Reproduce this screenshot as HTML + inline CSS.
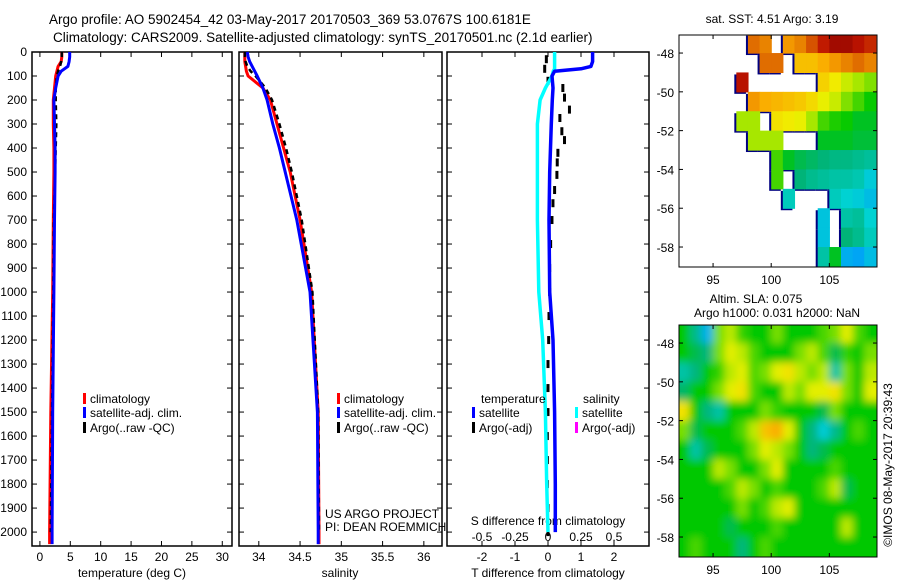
<!DOCTYPE html>
<html><head><meta charset="utf-8"><style>
html,body{margin:0;padding:0;background:#fff;}
svg{display:block;font-family:"Liberation Sans",sans-serif;}
text{fill:#000;}
</style></head><body>
<svg id="chart" width="900" height="580" viewBox="0 0 900 580">
<text x="49" y="24" font-size="13.5">Argo profile: AO 5902454_42 03-May-2017 20170503_369 53.0767S 100.6181E</text>
<text x="53" y="42" font-size="13.5">Climatology: CARS2009. Satellite-adjusted climatology: synTS_20170501.nc (2.1d earlier)</text>
<g id="g"></g>
</svg>
<script>
// ---- profile data ----
const tempDepth = [0,20,40,60,80,100,150,200,300,400,500,700,1000,1500,2000,2050];
const climT = [3.6,3.6,3.5,3.0,2.8,2.6,2.4,2.2,2.2,2.3,2.3,2.2,2.1,1.8,1.6,1.6];
const satT  = [4.9,4.9,4.8,4.6,3.5,3.0,2.6,2.3,2.4,2.5,2.5,2.4,2.3,2.1,2.0,2.0];
const argoDepth = [0,20,40,60,80,100,150,200,300,400,500,700,1000,1500,2000];
const argoT = [3.6,3.6,3.5,3.3,3.0,2.8,2.6,2.6,2.7,2.6,2.5,2.3,2.2,2.0,1.8];
const climS = [33.83,33.83,33.83,33.84,33.85,33.87,34.05,34.14,34.22,34.3,34.38,34.5,34.64,34.72,34.73,34.73];
const satS  = [33.86,33.87,33.89,33.92,33.95,33.98,34.05,34.1,34.17,34.25,34.32,34.46,34.62,34.71,34.72,34.72];
const argoS = [33.83,33.83,33.84,33.86,33.9,33.96,34.08,34.16,34.25,34.33,34.4,34.52,34.65,34.72,34.73];
const diffDepth = [0,40,60,70,80,100,150,200,300,500,700,1000,1200,1500,1800,2000];
const satTdiff = [1.35,1.35,1.3,1.0,0.2,0.12,0.15,0.13,0.1,0.05,0.03,0.05,0.15,0.2,0.22,0.22];
const satSdiff = [0.05,0.05,0.05,0.05,0.04,0.03,-0.02,-0.06,-0.08,-0.08,-0.08,-0.07,-0.04,-0.02,-0.01,0];
const argoDiffDepth = [30,70,120,150,190,240,275,330,367,420,460,512,575,630,700,800,900,1000,1100,1200,1300,1400,1500,1600,1700,1800,1900,2000];
const argoDiffVal = [-0.05,-0.1,0,0.45,0.5,0.65,0.36,0.42,0.5,0.3,0.28,0.27,0.2,0.15,0.12,0.08,0.05,0.05,0.03,0.02,0,0,0,-0.02,-0.02,-0.02,0,0];
const depthTicks = [0,100,200,300,400,500,600,700,800,900,1000,1100,1200,1300,1400,1500,1600,1700,1800,1900,2000];
const tTicks = [0,5,10,15,20,25,30];
const sTicks = [34,34.5,35,35.5,36];
const dTTicks = [-2,-1,0,1,2];
const dSTicks = [-0.5,-0.25,0,0.25,0.5];
const dSLabels = ["-0.5","-0.25","0","0.25","0.5"];
// ---- map data ----
const mapLons = [92,93,94,95,96,97,98,99,100,101,102,103,104,105,106,107,108,109];
const mapLats = [-47,-48,-49,-50,-51,-52,-53,-54,-55,-56,-57,-58,-59];
const lonTicks = [95,100,105];
const latTicks = [-48,-50,-52,-54,-56,-58];
const N = null;
const sst = [
[N,N,N,N,N,N,7.8,7.6,N,7.4,7.6,8.0,8.4,8.7,8.7,8.5,8.3],
[N,N,N,N,N,N,N,7.8,7.8,N,7.0,7.0,7.2,7.4,7.6,7.8,7.6],
[N,N,N,N,N,8.5,N,N,N,N,N,N,6.8,6.5,6.2,6.0,5.8],
[N,N,N,N,N,N,7.4,7.2,7.1,7.0,6.9,6.7,6.4,6.2,5.8,5.5,5.2],
[N,N,N,N,N,6,6,N,6.6,6.5,6.4,6.0,5.5,5.3,5.2,5.0,5.0],
[N,N,N,N,N,N,6,6,6,N,N,N,5.0,5.0,5.0,4.9,4.9],
[N,N,N,N,N,N,N,N,5.5,5.0,4.8,4.7,4.6,4.5,4.5,4.4,4.3],
[N,N,N,N,N,N,N,N,5.5,N,4.6,4.4,4.3,4.2,4.2,4.1,3.7],
[N,N,N,N,N,N,N,N,N,4.0,N,N,N,4.0,3.8,3.7,3.5],
[N,N,N,N,N,N,N,N,N,N,N,N,3.6,N,4.2,4.3,3.8],
[N,N,N,N,N,N,N,N,N,N,N,N,3.6,N,4.6,4.4,4.0],
[N,N,N,N,N,N,N,N,N,N,N,N,4.2,5.0,3.3,3.2,3.5]];
const sla = [
[0,-0.06,-0.15,0.05,0.08,0.02,0,0,0.05,0,0,0,0.03,0.05,0.1,0.03,0],
[0,-0.03,-0.05,0.05,0.1,0.08,0.03,0,0,0,0.05,0.08,0.03,-0.03,0.02,0,0.05],
[-0.08,-0.05,0,0.02,0.08,0.1,0.03,0.05,0.1,0.12,0.08,0.05,0.08,-0.08,0.05,0,0.08],
[-0.04,0,0,0.05,0.1,0.12,0.03,0,0,0.08,0.05,0.1,0.1,0.12,0.05,0,0.1],
[0.12,0,-0.05,-0.08,0,0,0,0.05,0.02,0,0,0,-0.03,0.05,0,0,0],
[0.05,-0.03,0,0,0,0.03,0.08,0.15,0.17,0.1,0,-0.05,-0.12,-0.06,0,0.03,0],
[0,-0.08,-0.03,0,0,0,0.05,0.1,0.08,0.05,0,-0.05,-0.03,0,0,0,0],
[0,0,0,0.08,0.05,0,0,0.05,0.1,0,0,0,0,0.03,0,0,0],
[0,0,0,0,0.03,0.08,0.05,0,0.03,0,0,0,0.03,0.08,-0.03,0,0],
[0,0,0,0,0,0.05,0,0.03,0.08,0.1,0,0,0,0,0,0,0],
[0,0,0,0,-0.03,0,0,0,0.03,0,0,0,0,0,0.08,0,0],
[0,0.03,0,0,0,-0.05,0,0.03,0,0,0,0,0,0,0,0,0]];

const NS = "http://www.w3.org/2000/svg";
const G = document.getElementById('g');
function mk(tag, attrs, parent){const e=document.createElementNS(NS,tag);for(const k in attrs)e.setAttribute(k,attrs[k]);(parent||G).appendChild(e);return e;}
function txt(x,y,s,size,anchor){const t=mk('text',{x:x,y:y,'font-size':size||12,'text-anchor':anchor||'start'});t.textContent=s;return t;}

const PT=52, PB=546, D0=0, D1=2058;
const yD = d => PT + (d-D0)/(D1-D0)*(PB-PT);
const panels = [
 {x0:32,x1:232,v0:-1.3,v1:31.6,name:'temperature-panel'},
 {x0:239,x1:442,v0:33.76,v1:36.22,name:'salinity-panel'},
 {x0:447,x1:649,v0:-3.06,v1:3.06,name:'difference-panel'}];
function xf(p){return v => p.x0 + (v-p.v0)/(p.v1-p.v0)*(p.x1-p.x0);}

panels.forEach((p,pi)=>{
  const f=mk('rect',{x:p.x0,y:PT,width:p.x1-p.x0,height:PB-PT,fill:'none',stroke:'#000','stroke-width':1.5});
  
  
  depthTicks.forEach(d=>{
    const y=yD(d);
    mk('line',{x1:p.x0,x2:p.x0+5,y1:y,y2:y,stroke:'#000'});
    mk('line',{x1:p.x1,x2:p.x1-5,y1:y,y2:y,stroke:'#000'});
    if(pi===0){const t=txt(27,y+4,String(d),12,'end');}
  });
});
let X=xf(panels[0]);
tTicks.forEach(v=>{mk('line',{x1:X(v),x2:X(v),y1:PT,y2:PT+5,stroke:'#000'});mk('line',{x1:X(v),x2:X(v),y1:PB,y2:PB-5,stroke:'#000'});
 const t=txt(X(v),561,String(v),12,'middle');});
let at=txt(132,577,'temperature (deg C)',12,'middle');
function line(xs,ds,X,color,w,name,dash){
  const pts=xs.map((v,i)=>X(v).toFixed(1)+','+yD(ds[i]).toFixed(1)).join(' ');
  const a={points:pts,fill:'none',stroke:color,'stroke-width':w,'stroke-linejoin':'round'};
  if(dash)a['stroke-dasharray']=dash;
  const e=mk('polyline',a);
  
  
  return e;
}
line(climT,tempDepth,X,'#f00',3,'climatology-temperature-line');
line(argoT,argoDepth,X,'#000',2.5,'argo-temperature-line','5 4');
line(satT,tempDepth,X,'#00f',3,'satellite-temperature-line');
X=xf(panels[1]);
sTicks.forEach(v=>{mk('line',{x1:X(v),x2:X(v),y1:PT,y2:PT+5,stroke:'#000'});mk('line',{x1:X(v),x2:X(v),y1:PB,y2:PB-5,stroke:'#000'});
 const t=txt(X(v),561,String(v),12,'middle');});
at=txt(340,577,'salinity',12,'middle');
line(climS,tempDepth,X,'#f00',3,'climatology-salinity-line');
line(argoS,argoDepth,X,'#000',2.5,'argo-salinity-line','5 4');
line(satS,tempDepth,X,'#00f',3,'satellite-salinity-line');
X=xf(panels[2]);
const XS = v => X(v*4);
dTTicks.forEach(v=>{mk('line',{x1:X(v),x2:X(v),y1:PT,y2:PT+5,stroke:'#000'});mk('line',{x1:X(v),x2:X(v),y1:PB,y2:PB-5,stroke:'#000'});
 const t=txt(X(v),561,String(v),12,'middle');});
dSTicks.forEach((v,i)=>{const t=txt(XS(v),541,dSLabels[i],12,'middle');});
at=txt(548,577,'T difference from climatology',12,'middle');
at=txt(548,525,'S difference from climatology',12,'middle');
argoDiffVal.forEach((v,i)=>{
  const m=mk('rect',{x:X(v)-1.5,y:yD(argoDiffDepth[i])-4,width:3,height:8,fill:'#000'});
  
  
});
line(satSdiff,diffDepth,XS,'#00ffff',3.5,'satellite-salinity-diff-line');
line(satTdiff,diffDepth,X,'#00f',3.5,'satellite-temperature-diff-line');

function leg(x,y,color,label){const r=mk('rect',{x:x,y:y-10,width:3,height:11,fill:color});const t=txt(x+7,y,label,12);}
leg(83,403,'#f00','climatology');leg(83,417,'#00f','satellite-adj. clim.');leg(83,432,'#000','Argo(..raw -QC)');
leg(337,403,'#f00','climatology');leg(337,417,'#00f','satellite-adj. clim.');leg(337,432,'#000','Argo(..raw -QC)');
let lt=txt(481,403,'temperature',12);
lt=txt(583,403,'salinity',12);
leg(472,417,'#00f','satellite');leg(472,432,'#000','Argo(-adj)');
leg(575,417,'#00ffff','satellite');leg(575,432,'#ff00ff','Argo(-adj)');
lt=txt(325,518,'US ARGO PROJECT',12);
lt=txt(325,531,'PI: DEAN ROEMMICH',12);

const stops=[[0,[0,0,128]],[0.12,[0,0,255]],[0.25,[0,150,255]],[0.35,[0,210,210]],[0.45,[0,180,120]],[0.52,[0,200,0]],[0.62,[160,230,0]],[0.68,[240,240,0]],[0.78,[250,170,0]],[0.86,[220,100,0]],[0.93,[190,20,0]],[1,[130,0,0]]];
function cmap(t){t=Math.max(0,Math.min(1,t));for(let i=1;i<stops.length;i++){if(t<=stops[i][0]){const a=stops[i-1],b=stops[i],f=(t-a[0])/(b[0]-a[0]);const c=a[1].map((v,k)=>Math.round(v+(b[1][k]-v)*f));return 'rgb('+c.join(',')+')';}}return 'rgb(130,0,0)';}

const MX0=679,MX1=877,LON0=92.07,LON1=109.1,LAT0=-47.07,LAT1=-59.03;
const mlon = v => MX0+(v-LON0)/(LON1-LON0)*(MX1-MX0);
function drawMap(y0,y1,grid,tfun,name,blur){
  const mlat = v => y0+(v-LAT0)/(LAT1-LAT0)*(y1-y0);
  const cid='clip'+name;
  const defs=mk('defs',{});
  const cp=mk('clipPath',{id:cid},defs);mk('rect',{x:MX0,y:y0,width:MX1-MX0,height:y1-y0},cp);
  if(blur){const fl=mk('filter',{id:'bl'+name,x:'-10%',y:'-10%',width:'120%',height:'120%'},defs);mk('feGaussianBlur',{stdDeviation:4},fl);}
  const g=mk('g',{'clip-path':'url(#'+cid+')'});
  const g2=mk('g',blur?{filter:'url(#bl'+name+')'}:{},g);
  
  
  if(!blur){
    grid.forEach((row,r)=>row.forEach((v,c)=>{if(v===null)return;
      const x=mlon(mapLons[c]),y=mlat(mapLats[r]),w=mlon(mapLons[c+1])-x,h=mlat(mapLats[r+1])-y;
      mk('rect',{x:x-2,y:y+2,width:w,height:h,fill:'#000080'},g2);}));
  } else {
    mk('rect',{x:MX0-20,y:y0-20,width:MX1-MX0+40,height:y1-y0+40,fill:cmap(tfun(0))},g2);
  }
  grid.forEach((row,r)=>row.forEach((v,c)=>{if(v===null)return;
    const x=mlon(mapLons[c]),y=mlat(mapLats[r]),w=mlon(mapLons[c+1])-x,h=mlat(mapLats[r+1])-y;
    const e=mk('rect',{x:x-(blur&&c===0?15:0),y:y-(blur&&r===0?15:0),width:w+0.6+(blur&&(c===0||c===16)?15:0),height:h+0.6+(blur&&(r===0||r===11)?15:0),fill:cmap(tfun(v))},g2);
    
    
  }));
  const f=mk('rect',{x:MX0,y:y0,width:MX1-MX0,height:y1-y0,fill:'none',stroke:'#000','stroke-width':1});
  
  
  lonTicks.forEach(v=>{const x=mlon(v);mk('line',{x1:x,x2:x,y1:y0,y2:y0+4,stroke:'#000'});mk('line',{x1:x,x2:x,y1:y1,y2:y1-4,stroke:'#000'});
    const t=txt(x,y1+17,String(v),12,'middle');});
  latTicks.forEach(v=>{const y=mlat(v);mk('line',{x1:MX0,x2:MX0+4,y1:y,y2:y,stroke:'#000'});mk('line',{x1:MX1,x2:MX1-4,y1:y,y2:y,stroke:'#000'});
    const t=txt(674,y+5,String(v),12,'end');});
}
drawMap(35,267,sst,v=>(v-1)/8,'sst',false);
drawMap(325,557,sla,v=>0.52+v*1.5,'sla',true);
lt=txt(772,23,'sat. SST: 4.51 Argo: 3.19',12,'middle');
lt=txt(756,303,'Altim. SLA: 0.075',12,'middle');
lt=txt(777,317,'Argo h1000: 0.031 h2000: NaN',12,'middle');
lt=txt(0,0,'©IMOS 08-May-2017 20:39:43',12,'middle');lt.setAttribute('transform','translate(892,465) rotate(-90)');

</script>
</body></html>
